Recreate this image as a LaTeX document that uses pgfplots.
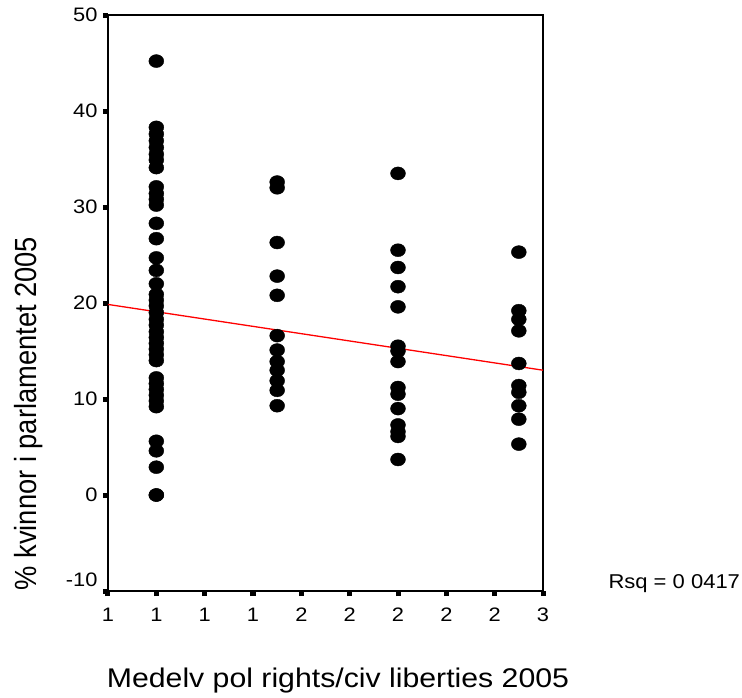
\documentclass[border=0pt]{standalone}
\usepackage{fontspec}
\setmainfont{Liberation Sans}
\usepackage{graphicx}
\usepackage{pgfplots}
\pgfplotsset{compat=1.18}
\newcommand{\tl}[1]{\scalebox{1.12}[1]{#1}}
\begin{document}
\begin{tikzpicture}
\path[use as bounding box] (-108pt,-106pt) rectangle (634pt,591pt);
\begin{axis}[
  at={(0,0)}, anchor=south west,
  scale only axis, width=435pt, height=576pt,
  xmin=0.8, xmax=2.6, ymin=-10, ymax=50,
  clip=false,
  axis line style={line width=1.6pt},
  xtick={0.8,1,1.2,1.4,1.6,1.8,2,2.2,2.4,2.6},
  xticklabels={\tl{1},\tl{1},\tl{1},\tl{1},\tl{2},\tl{2},\tl{2},\tl{2},\tl{2},\tl{3}},
  ytick={-10,0,10,20,30,40,50},
  yticklabels={\tl{\raisebox{11pt}[\height][\depth]{-10}},\tl{0},\tl{10},\tl{20},\tl{30},\tl{40},\tl{50}},
  tick align=outside, tick pos=left,
  major tick length=5pt,
  every tick/.style={black, line width=5pt},
  tick label style={font=\fontsize{19.5}{22}\selectfont},
  xticklabel style={yshift=-8.5pt},
  yticklabel style={xshift=-2pt},
  xlabel={\scalebox{1.12}[1]{Medelv pol rights/civ liberties 2005}},
  xlabel style={font=\fontsize{27}{30}\selectfont, at={(axis description cs:0.5287,-0.1667)}, anchor=base},
  ylabel={\scalebox{1}[1.12]{\% kvinnor i parlamentet 2005}},
  ylabel style={font=\fontsize{27.3}{30}\selectfont, at={(axis description cs:-0.1655,-0.005)}, anchor=base west},
]
\addplot[only marks, mark=*, mark size=6.5pt, mark options={xscale=1.15, fill=black, draw=black}] table[row sep=\\] {
x y\\
1 45.2\\ 1 38.3\\ 1 37.6\\ 1 36.9\\ 1 36.2\\ 1 35.5\\ 1 34.9\\ 1 34.1\\
1 32.1\\ 1 31.4\\ 1 30.8\\ 1 30.2\\ 1 28.3\\ 1 26.7\\ 1 24.7\\ 1 23.4\\
1 22.0\\ 1 20.9\\ 1 20.3\\ 1 19.7\\ 1 19.0\\ 1 18.3\\ 1 17.7\\ 1 17.0\\
1 16.4\\ 1 15.8\\ 1 15.2\\ 1 14.6\\ 1 14.0\\ 1 12.2\\ 1 11.6\\ 1 11.0\\
1 10.4\\ 1 9.8\\ 1 9.2\\ 1 5.6\\ 1 4.6\\ 1 2.9\\ 1 0.0\\ 1 0.0\\
1.5 32.6\\ 1.5 32.0\\ 1.5 26.3\\ 1.5 22.8\\ 1.5 20.8\\ 1.5 16.6\\
1.5 15.1\\ 1.5 13.9\\ 1.5 13.0\\ 1.5 11.9\\ 1.5 10.9\\ 1.5 9.3\\
2 33.5\\ 2 25.5\\ 2 23.7\\ 2 21.7\\ 2 19.6\\ 2 15.5\\ 2 15.0\\ 2 13.9\\
2 11.2\\ 2 10.5\\ 2 9.0\\ 2 7.3\\ 2 6.6\\ 2 6.1\\ 2 3.7\\
2.5 25.3\\ 2.5 19.2\\ 2.5 18.3\\ 2.5 17.1\\ 2.5 13.7\\ 2.5 11.4\\
2.5 10.7\\ 2.5 9.3\\ 2.5 7.9\\ 2.5 5.3\\
};
\addplot[red, line width=1.3pt] coordinates {(0.8,19.85) (2.6,13.0)};
\node[anchor=base west, font=\fontsize{20}{24}\selectfont] at (axis description cs:1.1425,0.0052) {\scalebox{1.1}[1]{Rsq = 0 0417}};
\end{axis}
\end{tikzpicture}
\end{document}
